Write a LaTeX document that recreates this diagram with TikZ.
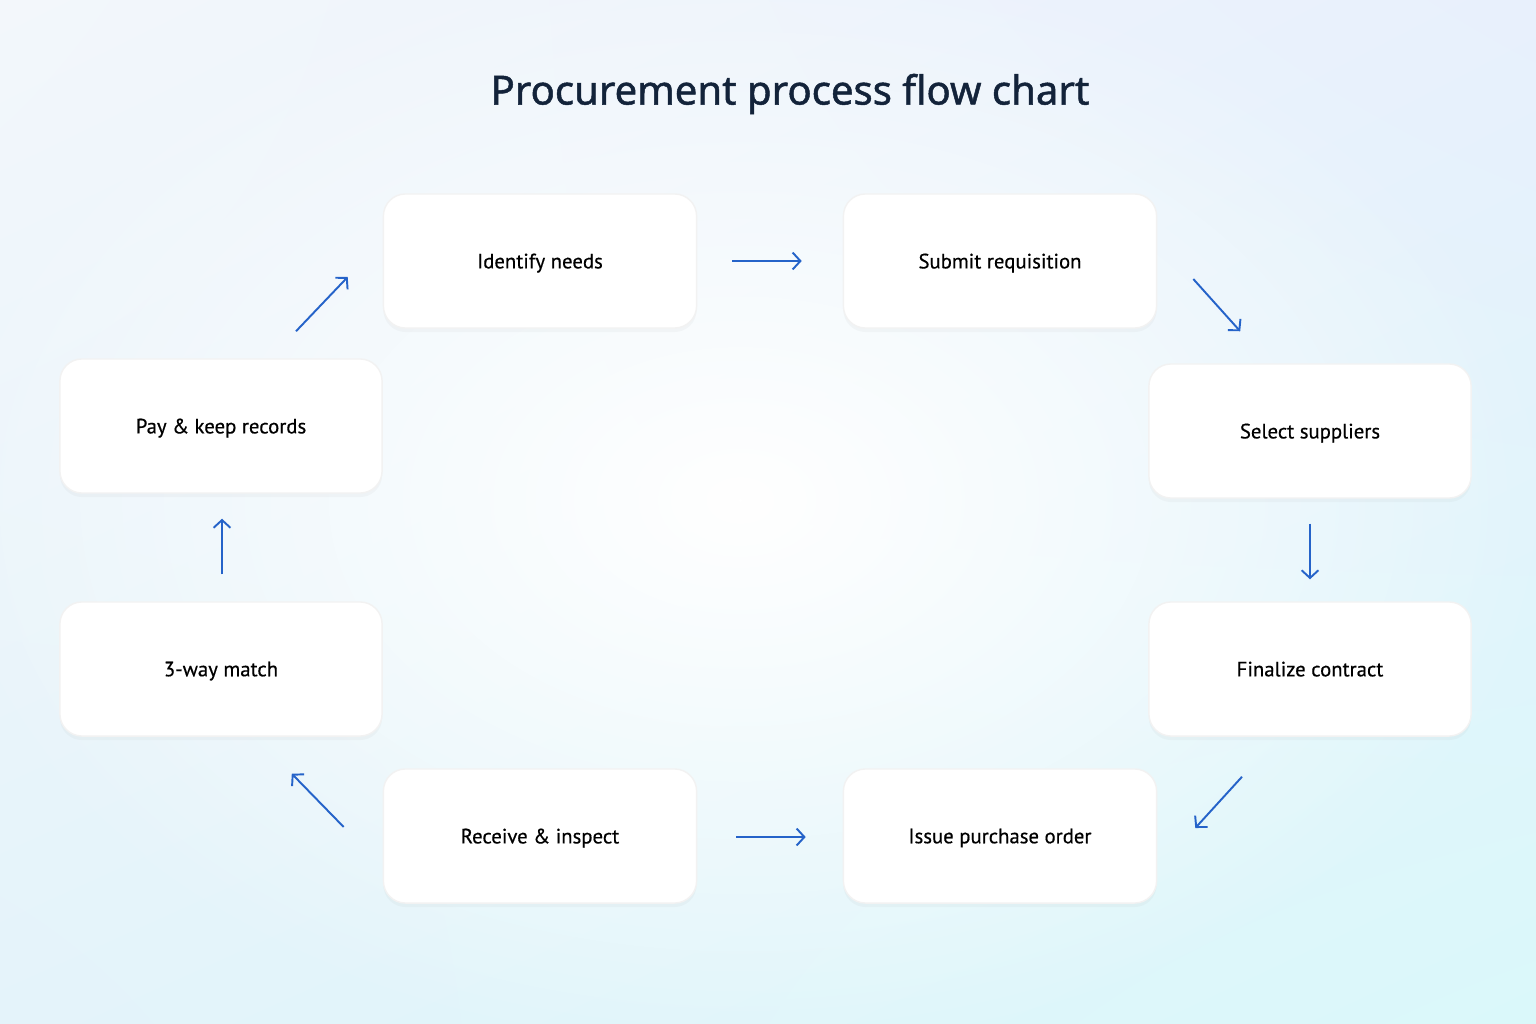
\documentclass[tikz,border=0pt]{standalone}
\usepackage{fontspec}
\setmainfont{Noto Sans}
\newfontfamily\titlefont[FakeBold=1.2]{Noto Sans}
\newfontfamily\stagefont[FakeBold=0.5]{PT Sans}
\usetikzlibrary{positioning, arrows.meta, shadows, shadings, fadings, calc}
\definecolor{arrowblue}{HTML}{2563C9}
\definecolor{titlenavy}{HTML}{13233A}
\definecolor{bgtl}{HTML}{F3F7FB}
\definecolor{bgtr}{HTML}{E8F0FC}
\definecolor{bgbl}{HTML}{E4F3FA}
\definecolor{bgbr}{HTML}{DAF8FA}
\tikzfading[name=centreglow, inner color=transparent!0,
            outer color=transparent!100]
\tikzset{
  stage/.style = {draw=black!5, rectangle, rounded corners=0.22cm,
                  fill=white, minimum width=3.13cm, minimum height=1.34cm,
                  inner sep=0pt, text depth=0pt, text=black,
                  font=\stagefont\fontsize{5.9}{8}\selectfont,
                  drop shadow={opacity=0.05, shadow xshift=0pt,
                               shadow yshift=-0.04cm}},
  widestage/.style = {stage, minimum width=3.22cm},
  arr/.style = {-{Straight Barb[length=2.2pt,width=4.8pt]},
                draw=arrowblue, line width=0.55pt},
}

\begin{document}
\begin{tikzpicture}[x=0.01cm, y=-0.01cm]

% background, 1 unit = 1 px of the reference
\useasboundingbox (0,0) rectangle (1536,1024);
\shade[upper left=bgtl, upper right=bgtr, lower left=bgbl, lower right=bgbr]
  (0,0) rectangle (1536,1024);
\fill[white, path fading=centreglow] (740,500) ellipse (820 and 560);

% title
\node[text=titlenavy, font=\titlefont\fontsize{11.4}{14}\selectfont] (title)
  at (790,94) {Procurement process flow chart};

% ── top row ─────────────────────────────────────────────────
\node[stage] (idn) at (540,261) {Identify needs};
\node[stage] (sub) at (1000,261) {Submit requisition};

% ── right column ────────────────────────────────────────────
\node[widestage] (sel) at (1310,431) {Select suppliers};
\node[widestage] (fin) at (1310,669) {Finalize contract};

% ── bottom row ──────────────────────────────────────────────
\node[stage] (iss) at (1000,836) {Issue purchase order};
\node[stage] (rec) at (540,836) {Receive \& inspect};

% ── left column ─────────────────────────────────────────────
\node[widestage] (mat) at (221,669) {3-way match};
\node[widestage] (pay) at (221,426) {Pay \& keep records};

% connectors (floating between the boxes)
\draw[arr] ([shift={(35,0)}]idn.east) -- ([shift={(-41,0)}]sub.west);
\draw[arr] ([shift={(36,18)}]sub.east) -- ([shift={(92,-32)}]sel.north west);
\draw[arr] ([shift={(0,25)}]sel.south) -- ([shift={(0,-22)}]fin.north);
\draw[arr] ([shift={(-68,40)}]fin.south) -- ([shift={(38,-8)}]iss.east);
\draw[arr] ([shift={(39,1)}]rec.east) -- ([shift={(-37,1)}]iss.west);
\draw[arr] ([shift={(-39,-9)}]rec.west) -- ([shift={(-91,37)}]mat.south east);
\draw[arr] ([shift={(1,-27)}]mat.north) -- ([shift={(1,25)}]pay.south);
\draw[arr] ([shift={(75,-27)}]pay.north) -- ([shift={(-35,16)}]idn.west);

\end{tikzpicture}
\end{document}
